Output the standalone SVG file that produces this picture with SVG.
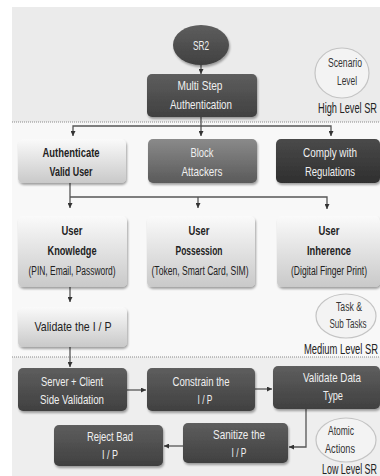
<svg xmlns="http://www.w3.org/2000/svg" width="380" height="476" viewBox="0 0 380 476">
<defs>
<linearGradient id="gLight" x1="0" y1="0" x2="0" y2="1"><stop offset="0" stop-color="#fafafa"/><stop offset="1" stop-color="#c9c9c9"/></linearGradient>
<linearGradient id="gDark" x1="0" y1="0" x2="0" y2="1"><stop offset="0" stop-color="#5e5e5e"/><stop offset="1" stop-color="#404040"/></linearGradient>
<linearGradient id="gMid" x1="0" y1="0" x2="0" y2="1"><stop offset="0" stop-color="#8a8a8a"/><stop offset="1" stop-color="#5a5a5a"/></linearGradient>
<linearGradient id="gDarker" x1="0" y1="0" x2="0" y2="1"><stop offset="0" stop-color="#4a4a4a"/><stop offset="1" stop-color="#2f2f2f"/></linearGradient>
<filter id="sh" x="-10%" y="-10%" width="125%" height="130%"><feDropShadow dx="1" dy="2" stdDeviation="1.2" flood-color="#000" flood-opacity="0.35"/></filter>
<marker id="ah" viewBox="0 0 6 6" refX="6" refY="3" markerWidth="5" markerHeight="5" orient="auto" markerUnits="userSpaceOnUse"><path d="M0,0 L6,3 L0,6 z" fill="#333"/></marker>
</defs>
<style>
text{font-family:"Liberation Sans",Arial,sans-serif;text-anchor:middle}
.box{stroke:none;filter:url(#sh)}
.light{fill:url(#gLight)}
.dark{fill:url(#gDark)}
.mid{fill:url(#gMid)}
.darker{fill:url(#gDarker)}
.wt{fill:#f0f0f0;font-size:13px}
.bt{fill:#222;font-size:13.5px;font-weight:bold}
.st{fill:#222;font-size:12px}
.lvl{fill:#f3f3f3;stroke:#c4c4c4;stroke-width:1.2}
.lt{fill:#333;font-size:12.5px}
.lab{fill:#222;font-size:14px;text-anchor:start}
.dot{stroke:#8a8a8a;stroke-width:1;stroke-dasharray:1 1}
.con{fill:none;stroke:#555;stroke-width:1.3}
</style>
<rect x="0" y="0" width="380" height="476" fill="#ffffff"/>
<rect x="12" y="7" width="368" height="115" fill="#ebebeb"/>
<rect x="12" y="122" width="368" height="235" fill="#f8f8f8"/>
<rect x="12" y="357" width="368" height="119" fill="#eeeeee"/>
<line class="dot" x1="12" y1="122" x2="380" y2="122"/>
<line class="dot" x1="12" y1="357" x2="380" y2="357"/>

<g id="connectors">
<line class="con" x1="201" y1="65" x2="201" y2="74" marker-end="url(#ah)"/>
<path class="con" d="M201 117 V126 H73 V136" marker-end="url(#ah)"/>
<path class="con" d="M201 126 H331 V136" marker-end="url(#ah)"/>
<line class="con" x1="201" y1="126" x2="201" y2="136" marker-end="url(#ah)"/>
<path class="con" d="M70 183 V197 V208" marker-end="url(#ah)"/>
<path class="con" d="M70 197 H327 V209" marker-end="url(#ah)"/>
<line class="con" x1="198" y1="197" x2="198" y2="208" marker-end="url(#ah)"/>
<line class="con" x1="70" y1="287" x2="70" y2="302" marker-end="url(#ah)"/>
<line class="con" x1="70" y1="347" x2="70" y2="367" marker-end="url(#ah)"/>
<line class="con" x1="127" y1="390" x2="146" y2="390" marker-end="url(#ah)"/>
<line class="con" x1="255" y1="389" x2="272" y2="389" marker-end="url(#ah)"/>
<path class="con" d="M306 409 V447 H289" marker-end="url(#ah)"/>
<line class="con" x1="183" y1="446" x2="164" y2="446" marker-end="url(#ah)"/>
</g>

<g id="sr2"><ellipse class="box dark" cx="201" cy="45" rx="28" ry="20"/><text class="wt" x="201" y="50" textLength="16" lengthAdjust="spacingAndGlyphs">SR2</text></g>
<g id="multi-step"><rect class="box dark" x="147" y="74" width="110" height="43" rx="5"/><text class="wt" x="200" y="90" textLength="45" lengthAdjust="spacingAndGlyphs">Multi Step</text><text class="wt" x="201" y="109" textLength="62" lengthAdjust="spacingAndGlyphs">Authentication</text></g>
<g id="scenario-level"><ellipse class="lvl" cx="342" cy="73" rx="27" ry="25"/><text class="lt" x="345" y="67" textLength="34" lengthAdjust="spacingAndGlyphs">Scenario</text><text class="lt" x="347" y="85" textLength="20" lengthAdjust="spacingAndGlyphs">Level</text></g>
<g id="high-level"><text class="lab" x="318" y="113" textLength="59" lengthAdjust="spacingAndGlyphs">High Level SR</text></g>

<g id="authenticate"><rect class="box light" x="18" y="139" width="108" height="44" rx="5"/><text class="bt" style="font-weight:600" x="71" y="157" textLength="57" lengthAdjust="spacingAndGlyphs">Authenticate</text><text class="bt" style="font-weight:600" x="71" y="176" textLength="43" lengthAdjust="spacingAndGlyphs">Valid User</text></g>
<g id="block"><rect class="box mid" x="148" y="139" width="109" height="44" rx="5"/><text class="wt" x="202" y="157" textLength="23" lengthAdjust="spacingAndGlyphs">Block</text><text class="wt" x="202" y="176" textLength="41" lengthAdjust="spacingAndGlyphs">Attackers</text></g>
<g id="comply"><rect class="box darker" x="276" y="139" width="104" height="44" rx="5"/><text class="wt" x="330" y="157" textLength="54" lengthAdjust="spacingAndGlyphs">Comply with</text><text class="wt" x="330" y="176" textLength="50" lengthAdjust="spacingAndGlyphs">Regulations</text></g>

<g id="knowledge"><rect class="box light" x="18" y="216" width="109" height="71" rx="5"/><text class="bt" x="72" y="235" textLength="21" lengthAdjust="spacingAndGlyphs">User</text><text class="bt" x="72" y="255" textLength="49" lengthAdjust="spacingAndGlyphs">Knowledge</text><text class="st" x="72" y="275" textLength="87" lengthAdjust="spacingAndGlyphs">(PIN, Email, Password)</text></g>
<g id="possession"><rect class="box light" x="147" y="216" width="108" height="71" rx="5"/><text class="bt" x="199" y="235" textLength="21" lengthAdjust="spacingAndGlyphs">User</text><text class="bt" x="199" y="255" textLength="47" lengthAdjust="spacingAndGlyphs">Possession</text><text class="st" x="200" y="275" textLength="97" lengthAdjust="spacingAndGlyphs">(Token, Smart Card, SIM)</text></g>
<g id="inherence"><rect class="box light" x="277" y="216" width="103" height="71" rx="5"/><text class="bt" x="329" y="235" textLength="21" lengthAdjust="spacingAndGlyphs">User</text><text class="bt" x="329" y="255" textLength="44" lengthAdjust="spacingAndGlyphs">Inherence</text><text class="st" x="329" y="275" textLength="76" lengthAdjust="spacingAndGlyphs">(Digital Finger Print)</text></g>

<g id="task-level"><ellipse class="lvl" cx="346" cy="316" rx="30" ry="22"/><text class="lt" x="349" y="311" textLength="26" lengthAdjust="spacingAndGlyphs">Task &amp;</text><text class="lt" x="348" y="328" textLength="37" lengthAdjust="spacingAndGlyphs">Sub Tasks</text></g>
<g id="medium-level"><text class="lab" x="304" y="354" textLength="74" lengthAdjust="spacingAndGlyphs">Medium Level SR</text></g>

<g id="validate-ip"><rect class="box light" x="18" y="307" width="109" height="40" rx="5"/><text class="st" style="font-size:13px" x="73" y="331" textLength="77" lengthAdjust="spacingAndGlyphs">Validate the I / P</text></g>

<g id="server-client"><rect class="box dark" x="18" y="368" width="109" height="43" rx="5"/><text class="wt" x="72" y="386" textLength="62" lengthAdjust="spacingAndGlyphs">Server + Client</text><text class="wt" x="72" y="404" textLength="64" lengthAdjust="spacingAndGlyphs">Side Validation</text></g>
<g id="constrain"><rect class="box dark" x="147" y="368" width="108" height="43" rx="5"/><text class="wt" x="201" y="386" textLength="57" lengthAdjust="spacingAndGlyphs">Constrain the</text><text class="wt" x="205" y="404" textLength="15" lengthAdjust="spacingAndGlyphs">I / P</text></g>
<g id="validate-type"><rect class="box dark" x="273" y="366" width="107" height="43" rx="5"/><text class="wt" x="332" y="382" textLength="58" lengthAdjust="spacingAndGlyphs">Validate Data</text><text class="wt" x="333" y="400" textLength="20" lengthAdjust="spacingAndGlyphs">Type</text></g>
<g id="sanitize"><rect class="box dark" x="183" y="423" width="105" height="40" rx="5"/><text class="wt" x="239" y="439" textLength="52" lengthAdjust="spacingAndGlyphs">Sanitize the</text><text class="wt" x="239" y="457" textLength="15" lengthAdjust="spacingAndGlyphs">I / P</text></g>
<g id="reject"><rect class="box dark" x="54" y="425" width="109" height="41" rx="5"/><text class="wt" x="110" y="441" textLength="46" lengthAdjust="spacingAndGlyphs">Reject Bad</text><text class="wt" x="110" y="459" textLength="16" lengthAdjust="spacingAndGlyphs">I / P</text></g>

<g id="atomic-level"><ellipse class="lvl" cx="346" cy="440" rx="30" ry="22"/><text class="lt" x="341" y="435" textLength="26" lengthAdjust="spacingAndGlyphs">Atomic</text><text class="lt" x="340" y="453" textLength="30" lengthAdjust="spacingAndGlyphs">Actions</text></g>
<g id="low-level"><text class="lab" x="322" y="474" textLength="55" lengthAdjust="spacingAndGlyphs">Low Level SR</text></g>
</svg>
